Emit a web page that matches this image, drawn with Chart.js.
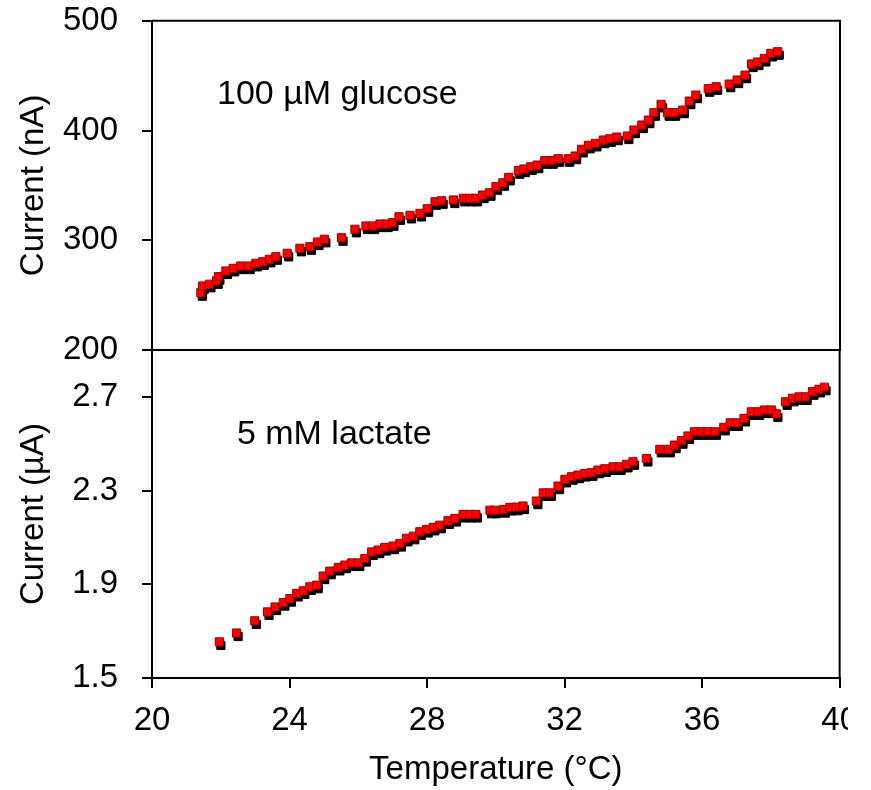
<!DOCTYPE html>
<html>
<head>
<meta charset="utf-8">
<script src="https://cdn.jsdelivr.net/npm/chart.js@4.4.1/dist/chart.umd.min.js"></script>
<style>
  body { margin: 0; background: #fff; }
  #wrap { position: relative; width: 871px; height: 790px; overflow: hidden; }
  #top { position: absolute; left: 0; top: -23px; }
  #clip { position: absolute; left: 0; top: 300px; width: 848px; height: 490px; overflow: hidden; }
</style>
</head>
<body>
<div id="wrap">
  <canvas id="top" width="871" height="423"></canvas>
  <div id="clip"><canvas id="bottom" width="871" height="490"></canvas></div>
</div>
<script>
// values
var glucoseTemp = [21.42,21.47,21.67,21.88,21.93,22.15,22.36,22.58,22.81,23.02,23.22,23.41,23.60,23.93,24.30,24.59,24.81,25.01,25.51,25.90,
  26.22,26.43,26.63,26.82,26.99,27.18,27.50,27.79,28.00,28.23,28.42,28.76,29.05,29.24,29.42,29.61,29.81,30.00,30.20,30.37,
  30.65,30.81,31.01,31.20,31.42,31.62,31.81,32.10,32.30,32.49,32.69,32.89,33.12,33.31,33.51,33.82,34.01,34.24,34.43,34.59,
  34.80,34.99,35.18,35.43,35.62,35.81,36.17,36.40,36.78,37.01,37.24,37.43,37.60,37.80,37.99,38.19];
var glucoseCurrent = [252.2,258.3,259.9,263.1,266.8,272.0,274.4,276.5,276.5,279.0,280.4,282.6,285.0,288.1,292.7,294.1,298.4,300.9,302.3,310.0,
  313.0,313.0,314.8,314.8,316.0,321.4,322.7,324.5,328.7,335.1,336.0,336.7,338.2,338.2,338.2,341.2,343.3,348.8,352.4,357.3,
  363.4,364.9,367.0,368.5,372.5,372.5,374.3,374.3,376.7,382.8,386.5,388.3,391.3,392.5,394.0,395.0,400.4,405.0,409.5,416.2,
  423.8,416.2,416.2,418.6,426.8,432.3,438.1,439.9,442.3,446.0,450.5,460.6,462.4,465.7,470.3,471.8];

var lactateTemp = [21.96,22.46,22.99,23.36,23.58,23.82,24.01,24.21,24.40,24.59,24.79,24.98,25.17,25.42,25.61,25.81,26.00,26.19,26.39,26.58,
  26.77,27.01,27.21,27.40,27.60,27.79,27.99,28.18,28.37,28.61,28.81,29.05,29.24,29.42,29.83,29.97,30.23,30.41,30.60,30.79,
  31.18,31.38,31.57,31.81,32.01,32.20,32.39,32.59,32.78,32.97,33.17,33.41,33.60,33.80,33.99,34.38,34.77,35.03,35.20,35.40,
  35.59,35.78,35.98,36.17,36.37,36.63,36.82,37.01,37.22,37.43,37.63,37.82,38.01,38.16,38.43,38.63,38.82,39.01,39.21,39.40,39.56];
var lactateCurrent = [1.654,1.692,1.744,1.782,1.803,1.822,1.839,1.861,1.872,1.889,1.896,1.935,1.956,1.972,1.982,1.991,1.991,2.010,2.038,2.046,
  2.057,2.063,2.074,2.096,2.105,2.124,2.134,2.143,2.152,2.171,2.181,2.198,2.198,2.198,2.216,2.216,2.219,2.228,2.229,2.234,
  2.255,2.290,2.290,2.319,2.348,2.359,2.366,2.373,2.376,2.387,2.393,2.401,2.401,2.412,2.423,2.437,2.476,2.476,2.494,2.513,
  2.533,2.551,2.551,2.551,2.551,2.570,2.589,2.589,2.608,2.636,2.636,2.644,2.644,2.627,2.679,2.694,2.700,2.700,2.722,2.732,2.741];

var xTicks = [20, 24, 28, 32, 36, 40];
var glucoseTicks = [200, 300, 400, 500];
var lactateTicks = [1.5, 1.9, 2.3, 2.7];

var FONT = '"Liberation Sans", Arial, sans-serif';
var font33 = { family: FONT, size: 33 };

function pts(xs, ys) {
  return xs.map(function (x, i) { return { x: x, y: ys[i] }; });
}

// black copy of the squares drawn a little down/right, under the red ones
var shadowPlugin = {
  id: 'shadow',
  beforeDatasetDraw: function (chart, args) {
    if (chart.data.datasets[args.index].shadow) {
      chart.ctx.save();
      chart.ctx.translate(1.5, 3.5);
    }
  },
  afterDatasetDraw: function (chart, args) {
    if (chart.data.datasets[args.index].shadow) chart.ctx.restore();
  }
};

// frame lines + panel label
var framePlugin = {
  id: 'frame',
  afterDraw: function (chart, args, opts) {
    var ctx = chart.ctx, a = chart.chartArea;
    ctx.save();
    ctx.strokeStyle = '#000';
    ctx.lineWidth = 2;
    ctx.beginPath();
    opts.sides.forEach(function (s) {
      if (s === 'top') { ctx.moveTo(a.left, a.top); ctx.lineTo(a.right + 1, a.top); }
      if (s === 'bottom') { ctx.moveTo(a.left, a.bottom); ctx.lineTo(a.right + 1, a.bottom); }
      if (s === 'right') { ctx.moveTo(a.right, a.top); ctx.lineTo(a.right, a.bottom); }
    });
    ctx.stroke();
    ctx.fillStyle = '#000';
    ctx.font = '34px ' + FONT;
    ctx.textAlign = 'left';
    ctx.textBaseline = 'middle';
    ctx.fillText(opts.label, chart.scales.x.getPixelForValue(opts.at[0]), chart.scales.y.getPixelForValue(opts.at[1]));
    ctx.restore();
  }
};

function makeDatasets(xs, ys) {
  return [{
    data: pts(xs, ys),
    backgroundColor: '#ff0000',
    borderColor: '#990000',
    borderWidth: 1,
    pointStyle: 'rect',
    pointRadius: 5.8,
    showLine: false,
    order: 0
  }, {
    data: pts(xs, ys),
    shadow: true,
    backgroundColor: '#000',
    borderColor: '#000',
    borderWidth: 1,
    pointStyle: 'rect',
    pointRadius: 5.8,
    showLine: false,
    order: 1
  }];
}

function yScale(min, max, ticks, title, fmt) {
  return {
    min: min, max: max,
    afterBuildTicks: function (s) { s.ticks = ticks.map(function (v) { return { value: v }; }); },
    afterFit: function (s) { s.width = 152; },
    border: { display: true, color: '#000', width: 2 },
    grid: { drawOnChartArea: false, drawTicks: true, tickLength: 10, color: '#000', lineWidth: 2 },
    ticks: { color: '#000', font: font33, padding: 24, callback: fmt },
    title: { display: true, text: title, color: '#000', font: font33, padding: { top: 14, bottom: 0 } }
  };
}

var topChart = new Chart(document.getElementById('top'), {
  type: 'scatter',
  data: { datasets: makeDatasets(glucoseTemp, glucoseCurrent) },
  options: {
    responsive: false,
    animation: false,
    layout: { padding: { top: 0, bottom: 50, left: 0, right: 31 } },
    plugins: {
      legend: { display: false },
      tooltip: { enabled: false },
      frame: { sides: ['top', 'right', 'bottom'], label: '100 µM glucose', at: [21.89, 433] }
    },
    scales: {
      x: { type: 'linear', min: 20, max: 40, display: false },
      y: yScale(200, 500, glucoseTicks, 'Current (nA)', function (v) { return v; })
    }
  },
  plugins: [shadowPlugin, framePlugin]
});

var bottomChart = new Chart(document.getElementById('bottom'), {
  type: 'scatter',
  data: { datasets: makeDatasets(lactateTemp, lactateCurrent) },
  options: {
    responsive: false,
    animation: false,
    layout: { padding: { top: 50, bottom: 0, left: 0, right: 31 } },
    plugins: {
      legend: { display: false },
      tooltip: { enabled: false },
      frame: { sides: ['top', 'right'], label: '5 mM lactate', at: [22.47, 2.537] }
    },
    scales: {
      x: {
        type: 'linear', min: 20, max: 40,
        afterBuildTicks: function (s) { s.ticks = xTicks.map(function (v) { return { value: v }; }); },
        afterFit: function (s) { s.height = 112; },
        border: { display: true, color: '#000', width: 2 },
        grid: { drawOnChartArea: false, drawTicks: true, tickLength: 10, color: '#000', lineWidth: 2 },
        ticks: { color: '#000', font: font33, padding: 13, maxRotation: 0 },
        title: { display: true, text: 'Temperature (°C)', color: '#000', font: font33, padding: { top: 0, bottom: 0 } }
      },
      y: yScale(1.5, 2.9, lactateTicks, 'Current (µA)', function (v) { return v.toFixed(1); })
    }
  },
  plugins: [shadowPlugin, framePlugin]
});
</script>
</body>
</html>
